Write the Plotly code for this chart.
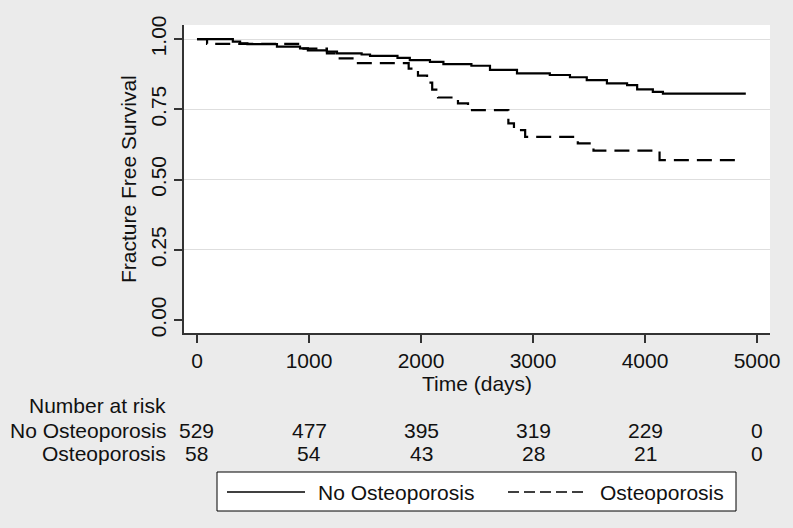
import plotly.graph_objects as go

# Kaplan-Meier step data (time in days, survival)
no_osteo_time = [0, 320, 385, 450, 714, 920, 990, 1160, 1250, 1470, 1545, 1790, 1900,
                 2080, 2200, 2450, 2616, 2857, 3150, 3330, 3480, 3660, 3840, 3930,
                 4070, 4160, 4900]
no_osteo_surv = [1.0, 0.991, 0.985, 0.982, 0.973, 0.967, 0.960, 0.955, 0.949, 0.945,
                 0.940, 0.933, 0.925, 0.919, 0.911, 0.905, 0.890, 0.878, 0.872, 0.864,
                 0.854, 0.842, 0.836, 0.821, 0.812, 0.806, 0.806]

osteo_time = [0, 90, 920, 1160, 1250, 1411, 1890, 1973, 2054, 2100, 2152, 2330, 2420,
              2780, 2830, 2930, 3400, 3540, 4130, 4820]
osteo_surv = [1.0, 0.983, 0.966, 0.949, 0.931, 0.914, 0.895, 0.870, 0.845, 0.820,
              0.792, 0.771, 0.747, 0.700, 0.676, 0.652, 0.629, 0.603, 0.569, 0.569]

risk_times = [0, 1000, 2000, 3000, 4000, 5000]
risk_no_osteo = [529, 477, 395, 319, 229, 0]
risk_osteo = [58, 54, 43, 28, 21, 0]

x_ticks = [0, 1000, 2000, 3000, 4000, 5000]
y_ticks = [0, 0.25, 0.5, 0.75, 1.0]
y_ticktext = ["0.00", "0.25", "0.50", "0.75", "1.00"]

FONT = "Liberation Sans, Arial, sans-serif"
FS = 21
TXT = "#111111"

fig = go.Figure()
# invisible trace to activate yaxis2 grid
fig.add_trace(go.Scatter(x=[0], y=[0], yaxis="y2", mode="markers", marker=dict(opacity=0),
                         showlegend=False, hoverinfo="skip"))
fig.add_trace(go.Scatter(x=no_osteo_time, y=no_osteo_surv, mode="lines",
                         line=dict(shape="hv", color="black", width=2.2),
                         name="No Osteoporosis", showlegend=False))
fig.add_trace(go.Scatter(x=osteo_time, y=osteo_surv, mode="lines",
                         line=dict(shape="hv", color="black", width=2.2, dash="15px,8px"),
                         name="Osteoporosis", showlegend=False))

# Plot area in pixels: x 184..770, y 25..333
L, R, T, B = 184, 770, 25, 333
W, H = 793, 528
pw, ph = R - L, B - T

def px(x):
    return (x - L) / pw

def py(y):
    return (B - y) / ph

annotations = []
annotations.append(dict(text="Time (days)", xref="paper", yref="paper", x=px(477), y=py(383),
                        xanchor="center", yanchor="middle", showarrow=False,
                        font=dict(family=FONT, size=FS, color=TXT)))
annotations.append(dict(text="Fracture Free Survival", xref="paper", yref="paper", x=px(128), y=0.5,
                        xanchor="center", yanchor="middle", textangle=-90, showarrow=False,
                        font=dict(family=FONT, size=FS, color=TXT)))
annotations.append(dict(text="Number at risk", xref="paper", yref="paper", x=px(168), y=py(405),
                        xanchor="right", yanchor="middle", showarrow=False,
                        font=dict(family=FONT, size=FS, color=TXT)))
annotations.append(dict(text="No Osteoporosis", xref="paper", yref="paper", x=px(168), y=py(430),
                        xanchor="right", yanchor="middle", showarrow=False,
                        font=dict(family=FONT, size=FS, color=TXT)))
annotations.append(dict(text="Osteoporosis", xref="paper", yref="paper", x=px(168), y=py(453),
                        xanchor="right", yanchor="middle", showarrow=False,
                        font=dict(family=FONT, size=FS, color=TXT)))
for t, a, b in zip(risk_times, risk_no_osteo, risk_osteo):
    annotations.append(dict(text=str(a), xref="x", yref="paper", x=t, y=py(430),
                            xanchor="center", yanchor="middle", showarrow=False,
                            font=dict(family=FONT, size=FS, color=TXT)))
    annotations.append(dict(text=str(b), xref="x", yref="paper", x=t, y=py(453),
                            xanchor="center", yanchor="middle", showarrow=False,
                            font=dict(family=FONT, size=FS, color=TXT)))

# Custom legend box
legend_y = 492
shapes = [
    dict(type="rect", xref="paper", yref="paper", x0=px(217), x1=px(736), y0=py(511), y1=py(472),
         fillcolor="white", line=dict(color="black", width=1)),
    dict(type="line", xref="paper", yref="paper", x0=px(227), x1=px(305), y0=py(legend_y), y1=py(legend_y),
         line=dict(color="black", width=1.5)),
    dict(type="line", xref="paper", yref="paper", x0=px(508), x1=px(586), y0=py(legend_y), y1=py(legend_y),
         line=dict(color="black", width=1.5, dash="11px,5px")),
]
annotations.append(dict(text="No Osteoporosis", xref="paper", yref="paper", x=px(316), y=py(legend_y),
                        xanchor="left", yanchor="middle", showarrow=False,
                        font=dict(family=FONT, size=FS, color=TXT)))
annotations.append(dict(text="Osteoporosis", xref="paper", yref="paper", x=px(598), y=py(legend_y),
                        xanchor="left", yanchor="middle", showarrow=False,
                        font=dict(family=FONT, size=FS, color=TXT)))

fig.update_layout(
    width=W, height=H,
    margin=dict(l=L, r=W - R, t=T, b=H - B, pad=0),
    paper_bgcolor="#ebebeb", plot_bgcolor="white",
    font=dict(family=FONT, size=FS, color=TXT),
    xaxis=dict(range=[-116, 5116], tickvals=x_ticks, ticks="outside", ticklen=8, tickwidth=1.5,
               tickcolor="#333", showline=True, linecolor="#333", linewidth=2, showgrid=False,
               zeroline=False, mirror=False, tickfont=dict(size=FS), automargin=False),
    yaxis=dict(range=[-0.046, 1.05], tickvals=y_ticks, ticktext=y_ticktext, tickangle=-90,
               ticks="outside", ticklen=8, tickwidth=1.5, tickcolor="#333", showline=True,
               linecolor="#333", linewidth=2, showgrid=False, zeroline=False,
               tickfont=dict(size=FS), automargin=False),
    yaxis2=dict(range=[-0.046, 1.05], overlaying="y", tickvals=[0.25, 0.5, 0.75, 1.0],
                showticklabels=False, ticks="", showgrid=True, gridcolor="#dedede", gridwidth=1,
                zeroline=False, showline=False, side="left", automargin=False),
    annotations=annotations,
    shapes=shapes,
    showlegend=False,
)

fig.write_html("out.html",
               config={"displayModeBar": False},
               post_script="document.body.style.margin='0';document.body.style.padding='0';"
                           "document.body.style.overflow='hidden';")
